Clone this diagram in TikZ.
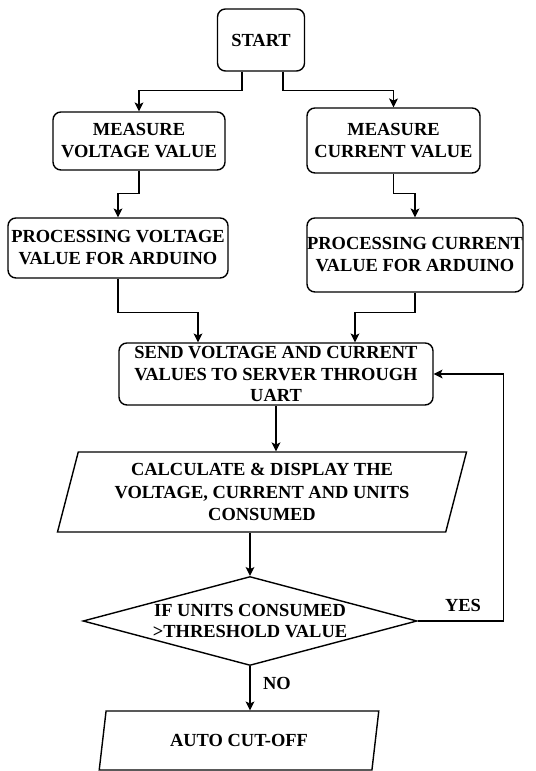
\documentclass[tikz,border=0pt]{standalone}
\usepackage{fontspec}
\setmainfont{Liberation Serif}
\usetikzlibrary{arrows.meta,shapes.geometric}
\tikzset{arrow/.style={-{Stealth[length=5pt, width=5pt, inset=1.2pt]}, line width=0.8pt}}
\tikzset{procbox/.style={draw, line width=0.8pt, rounded corners=4.5pt, align=center, inner sep=0pt,
    font=\fontsize{10.5}{12.5}\selectfont\bfseries}}
\tikzset{iobox/.style={draw, line width=0.8pt, trapezium, trapezium left angle=74, trapezium right angle=106,
    trapezium stretches=true, align=center, inner sep=0pt, font=\fontsize{10.5}{13}\selectfont\bfseries}}
\tikzset{decbox/.style={draw, line width=0.8pt, diamond, aspect=3.75, align=center, inner sep=0pt,
    font=\fontsize{10.5}{11.5}\selectfont\bfseries}}
\tikzset{lbl/.style={font=\fontsize{10.5}{12}\selectfont\bfseries}}

\begin{document}
\begin{tikzpicture}
    \useasboundingbox (0, 0) rectangle (10.7, 15.42);
    \node[procbox, minimum width=1.74cm, minimum height=1.24cm] (start) at (5.22, 14.62) {START};
    \node[procbox, minimum width=3.44cm, minimum height=1.16cm] (measV) at (2.78, 12.60) {MEASURE\\VOLTAGE VALUE};
    \node[procbox, minimum width=3.46cm, minimum height=1.30cm] (measI) at (7.87, 12.61) {MEASURE\\CURRENT VALUE};
    \node[procbox, minimum width=4.40cm, minimum height=1.20cm] (procV) at (2.36, 10.46) {PROCESSING VOLTAGE\\VALUE FOR ARDUINO};
    \node[procbox, minimum width=4.32cm, minimum height=1.48cm] (procI) at (8.30, 10.32) {PROCESSING CURRENT\\VALUE FOR ARDUINO};
    \node[procbox, minimum width=6.28cm, minimum height=1.24cm] (send) at (5.52, 7.94) {SEND VOLTAGE AND CURRENT\\VALUES TO SERVER THROUGH\\UART};
    \node[iobox, minimum width=8.2cm, minimum height=1.60cm] (calc) at (5.24, 5.58) {CALCULATE \& DISPLAY THE\\VOLTAGE, CURRENT AND UNITS\\CONSUMED};
    \node[decbox, minimum width=6.68cm, minimum height=1.78cm] (dec) at (5.00, 3.00) {IF UNITS CONSUMED\\>THRESHOLD VALUE};
    \node[iobox, minimum width=5.6cm, minimum height=1.18cm] (cut) at (4.78, 0.61) {AUTO CUT-OFF};
    \draw[arrow] ([xshift=-0.38cm]start.south) -- ++(0, -0.38) -| (measV.north);
    \draw[arrow] ([xshift=0.44cm]start.south) -- ++(0, -0.38) -| (measI.north);
    \draw[arrow] (measV.south) -- ++(0, -0.46) -| (procV.north);
    \draw[arrow] (measI.south) -- ++(0, -0.40) -| (procI.north);
    \draw[arrow] (procV.south) -- ++(0, -0.68) -| ([xshift=-1.56cm]send.north);
    \draw[arrow] (procI.south) -- ++(0, -0.40) -| ([xshift=1.58cm]send.north);
    \draw[arrow] (send.south) -- (send.south |- calc.north);
    \draw[arrow] (dec.north |- calc.south) -- (dec.north);
    \draw[arrow] (dec.south) -- (dec.south |- cut.north);
    \draw[arrow] (dec.east) -- ++(1.72, 0) |- (send.east);
    \node[lbl] (yes) at (9.26, 3.32) {YES};
    \node[lbl] (no) at (5.54, 1.76) {NO};
\end{tikzpicture}
\end{document}
